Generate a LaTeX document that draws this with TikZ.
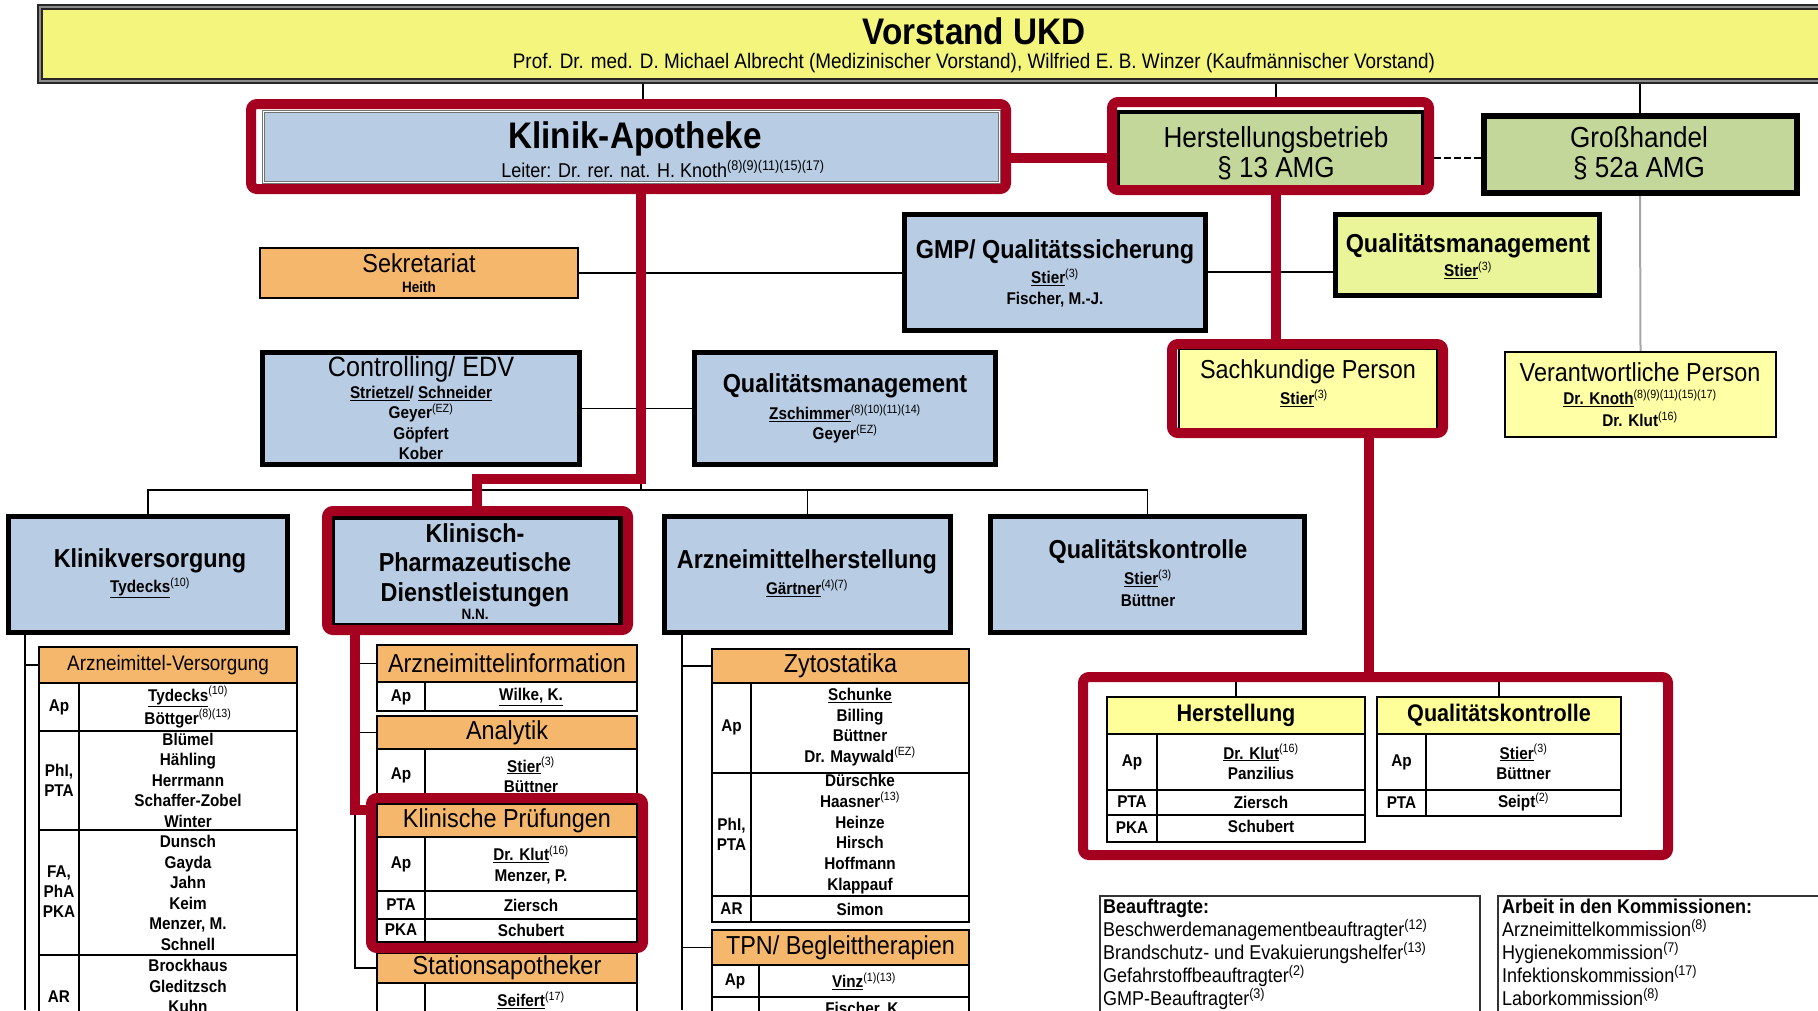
\documentclass[tikz,border=0pt]{standalone}
\usepackage{fontspec}
\setmainfont[FakeStretch=0.9]{Liberation Sans}
\usepackage{xcolor}
\usepackage{tikz}
\usetikzlibrary{backgrounds}
\definecolor{kblue}{RGB}{184,204,228}
\definecolor{korange}{RGB}{245,183,108}
\definecolor{kgreen}{RGB}{196,215,155}
\definecolor{kyellow}{RGB}{243,245,125}
\definecolor{klime}{RGB}{233,245,152}
\definecolor{kpale}{RGB}{255,255,166}
\definecolor{khead}{RGB}{255,255,153}
\definecolor{kred}{RGB}{166,0,33}
\newcommand{\setfs}[2]{\fontsize{#1}{#2}\selectfont}
\newcommand{\sps}[1]{\textsuperscript{\mdseries #1}}

\begin{document}
\begin{tikzpicture}[x=1pt,y=-1pt,
  conn/.style={draw=black, line width=1.5pt},
  cell/.style={draw=black, line width=1.5pt},
  redline/.style={draw=kred, line width=10pt},
  redframe/.style={draw=kred, line width=10pt, rounded corners=6pt, inner sep=0pt},
  bluebox/.style={draw=black, line width=5pt, fill=kblue, inner sep=0pt},
  hdrcell/.style={draw=black, line width=1.5pt, fill=korange, inner sep=0pt, font=\setfs{26}{28}},
  ttl/.style={inner sep=0pt, align=center, font=\setfs{26}{29.5}\bfseries},
  ttlr/.style={inner sep=0pt, align=center, font=\setfs{26}{29.5}},
  names/.style={inner sep=0pt, align=center, font=\setfs{17}{20.5}\bfseries},
  lbl/.style={inner sep=0pt, align=center, font=\setfs{17}{20}\bfseries}]
  \useasboundingbox (0,0) rectangle (1818,1010);
  \clip (0,0) rectangle (1818,1010);

  \node[draw=black!85, double=black!45, double distance=2pt, line width=2pt, fill=kyellow,
    minimum width=1800, minimum height=74, inner sep=0pt] (vorstand) at (940,44) {};
  \node[inner sep=0pt, font=\setfs{37}{40}\bfseries] (vtitle) at (974,31) {Vorstand UKD};
  \node[inner sep=0pt, font=\setfs{21}{24}] (vsub) at (974,63) {Prof. Dr. med. D. Michael Albrecht (Medizinischer Vorstand), Wilfried E. B. Winzer (Kaufmännischer Vorstand)};
  \coordinate (v1) at (643,83);
  \coordinate (v2) at (1276,83);
  \coordinate (v3) at (1640,83);

  \node[draw=black!55, double=white, double distance=1pt, line width=1pt, fill=kblue,
    minimum width=736, minimum height=71, inner sep=0pt] (ka) at (631,147) {};
  \node[inner sep=0pt, font=\setfs{37}{40}\bfseries] (katitle) at (635,139) {Klinik-Apotheke};
  \node[inner sep=0pt, font=\setfs{20}{22}] (kaleiter) at (663,169) {Leiter: Dr. rer. nat. H. Knoth\sps{(8)(9)(11)(15)(17)}};
  \node[redframe, minimum width=755, minimum height=85] (kared) at (628.5,146.5) {};

  \node[draw=black, line width=4pt, fill=kgreen, minimum width=305, minimum height=76, inner sep=0pt] (hb) at (1270,150) {};
  \node[ttlr, font=\setfs{29}{30}] (hbtext) at (1276,153) {Herstellungsbetrieb\\§ 13 AMG};
  \node[redframe, minimum width=317, minimum height=88] (hbred) at (1270.5,146) {};

  \node[draw=black, line width=6pt, fill=kgreen, minimum width=313, minimum height=77, inner sep=0pt] (gh) at (1640,154) {};
  \node[ttlr, font=\setfs{29}{30}] (ghtext) at (1639,153) {Großhandel\\§ 52a AMG};

  \node[draw=black, line width=1.5pt, fill=korange, minimum width=318, minimum height=50, inner sep=0pt] (sek) at (419,273) {};
  \node[ttlr, font=\setfs{26}{27}] (sektext) at (419,263) {Sekretariat};
  \node[names, font=\setfs{15}{18}\bfseries] (sekname) at (419,287) {Heith};

  \node[bluebox, minimum width=301, minimum height=116] (gmp) at (1055,272) {};
  \node[ttl] (gmptext) at (1055,252) {GMP/ Qualitätssicherung};
  \node[names] (gmpnames) at (1055,288) {\underline{Stier}\sps{(3)}\\Fischer, M.-J.};

  \node[draw=black, line width=5pt, fill=klime, minimum width=264, minimum height=81, inner sep=0pt] (qmr) at (1467.5,255) {};
  \node[ttl] (qmrtext) at (1468,246) {Qualitätsmanagement};
  \node[names] (qmrnames) at (1468,270) {\underline{Stier}\sps{(3)}};

  \node[bluebox, minimum width=317, minimum height=112] (ctrl) at (421,408.5) {};
  \node[ttlr, font=\setfs{28}{30}] (ctrltext) at (421,369) {Controlling/ EDV};
  \node[names] (ctrlnames) at (421,423) {\underline{Strietzel}/ \underline{Schneider}\\Geyer\sps{(EZ)}\\Göpfert\\Kober};

  \node[bluebox, minimum width=301, minimum height=112] (qmm) at (845,408.5) {};
  \node[ttl] (qmmtext) at (845,386) {Qualitätsmanagement};
  \node[names] (qmmnames) at (845,424) {\underline{Zschimmer}\sps{(8)(10)(11)(14)}\\Geyer\sps{(EZ)}};

  \node[draw=black, line width=1.5pt, fill=kpale, minimum width=258, minimum height=79, inner sep=0pt] (sp) at (1308,389) {};
  \node[ttlr] (sptext) at (1308,372) {Sachkundige Person};
  \node[names] (spnames) at (1304,398) {\underline{Stier}\sps{(3)}};
  \node[redframe, minimum width=271, minimum height=89] (spred) at (1307.5,388.5) {};

  \node[draw=black, line width=1.5pt, fill=kpale, minimum width=271, minimum height=85, inner sep=0pt] (vp) at (1640.5,394.5) {};
  \node[ttlr] (vptext) at (1640,372) {Verantwortliche Person};
  \node[names, font=\setfs{17}{22}\bfseries] (vpnames) at (1640,408) {\underline{Dr. Knoth}\sps{(8)(9)(11)(15)(17)}\\Dr. Klut\sps{(16)}};

  \node[bluebox, minimum width=279, minimum height=116] (kv) at (148,574.5) {};
  \node[ttl] (kvtext) at (150,561) {Klinikversorgung};
  \node[names] (kvnames) at (150,588) {\underline{Tydecks}\sps{(10)}};

  \node[bluebox, minimum width=288, minimum height=108] (kp) at (476.5,571.5) {};
  \node[ttl, font=\setfs{26}{29.5}\bfseries] (kptext) at (475,565) {Klinisch-\\Pharmazeutische\\Dienstleistungen};
  \node[names, font=\setfs{15}{17}\bfseries] (kpnames) at (475,614) {N.N.};
  \node[redframe, minimum width=301, minimum height=119] (kpred) at (477.5,570.5) {};

  \node[bluebox, minimum width=286, minimum height=116] (ah) at (807.5,574.5) {};
  \node[ttl] (ahtext) at (807,562) {Arzneimittelherstellung};
  \node[names] (ahnames) at (807,588) {\underline{Gärtner}\sps{(4)(7)}};

  \node[bluebox, minimum width=314, minimum height=116] (qk) at (1147.5,574.5) {};
  \node[ttl] (qktext) at (1148,552) {Qualitätskontrolle};
  \node[names, font=\setfs{17}{22}\bfseries] (qknames) at (1148,588) {\underline{Stier}\sps{(3)}\\Büttner};

  \node[hdrcell, font=\setfs{21}{24}, minimum width=258, minimum height=36] (avh) at (168,665) {Arzneimittel-Versorgung};
  \draw[cell] (39,683) -- (39,1040) (79,683) -- (79,1040) (297,683) -- (297,1040);
  \foreach \y in {731,830,955} \draw[cell] (39,\y) -- (297,\y);
  \node[lbl] (av1) at (59,707) {Ap};
  \node[names, font=\setfs{17}{23}\bfseries] (av1n) at (188,707) {\underline{Tydecks}\sps{(10)}\\Böttger\sps{(8)(13)}};
  \node[lbl] (av2) at (59,780) {PhI,\\PTA};
  \node[names] (av2n) at (188,780) {Blümel\\Hähling\\Herrmann\\Schaffer-Zobel\\Winter};
  \node[lbl] (av3) at (59,892) {FA,\\PhA\\PKA};
  \node[names] (av3n) at (188,893) {Dunsch\\Gayda\\Jahn\\Keim\\Menzer, M.\\Schnell};
  \node[lbl] (av4) at (59,997) {AR};
  \node[names] (av4n) at (188,986) {Brockhaus\\Gleditzsch\\Kuhn};

  \node[hdrcell, minimum width=260, minimum height=37] (aih) at (507,663.5) {Arzneimittelinformation};
  \draw[cell] (377,682) rectangle (637,711) (425,682) -- (425,711);
  \node[lbl] (ai1) at (401,697) {Ap};
  \node[names] (ai1n) at (531,697) {\underline{Wilke, K.}};
  \node[hdrcell, minimum width=260, minimum height=33] (anh) at (507,732.5) {Analytik};
  \draw[cell] (377,749) rectangle (637,800) (425,749) -- (425,800);
  \node[lbl] (an1) at (401,775) {Ap};
  \node[names] (an1n) at (531,775) {\underline{Stier}\sps{(3)}\\Büttner};
  \node[hdrcell, minimum width=260, minimum height=33] (kph) at (507,820.5) {Klinische Prüfungen};
  \draw[cell] (377,837) rectangle (637,942) (425,837) -- (425,942) (377,891) -- (637,891) (377,919) -- (637,919);
  \node[lbl] (kp1) at (401,864) {Ap};
  \node[names] (kp1n) at (531,865) {\underline{Dr. Klut}\sps{(16)}\\Menzer, P.};
  \node[lbl] (kp2) at (401,905) {PTA};
  \node[names] (kp2n) at (531,905) {Ziersch};
  \node[lbl] (kp3) at (401,930) {PKA};
  \node[names] (kp3n) at (531,930) {Schubert};
  \node[hdrcell, minimum width=260, minimum height=30] (sth) at (507,968) {Stationsapotheker};
  \draw[cell] (377,983) -- (377,1040) (425,983) -- (425,1040) (637,983) -- (637,1040);
  \node[names] (st1n) at (531,1000) {\underline{Seifert}\sps{(17)}};
  \node[redframe, minimum width=272, minimum height=150] (kprf) at (507,873) {};

  \node[hdrcell, minimum width=257, minimum height=34] (zyh) at (840.5,666) {Zytostatika};
  \draw[cell] (712,683) -- (712,922) -- (969,922) -- (969,683) (751,683) -- (751,922) (712,773) -- (969,773) (712,896) -- (969,896);
  \node[lbl] (zy1) at (731.5,727) {Ap};
  \node[names] (zy1n) at (860,727) {\underline{Schunke}\\Billing\\Büttner\\Dr. Maywald\sps{(EZ)}};
  \node[lbl] (zy2) at (731.5,834) {PhI,\\PTA};
  \node[names, font=\setfs{17}{20.8}\bfseries] (zy2n) at (860,834) {Dürschke\\Haasner\sps{(13)}\\Heinze\\Hirsch\\Hoffmann\\Klappauf};
  \node[lbl] (zy3) at (731.5,909) {AR};
  \node[names] (zy3n) at (860,909) {Simon};
  \node[hdrcell, minimum width=257, minimum height=35] (tpnh) at (840.5,947.5) {TPN/ Begleittherapien};
  \draw[cell] (712,965) -- (712,1040) (759,965) -- (759,1040) (969,965) -- (969,1040) (712,997) -- (969,997);
  \node[lbl] (tp1) at (735,981) {Ap};
  \node[names] (tp1n) at (864,981) {\underline{Vinz}\sps{(1)(13)}};
  \node[names] (tp2n) at (864,1010) {Fischer, K.};

  \node[draw=black, line width=1.5pt, fill=khead, inner sep=0pt, minimum width=258, minimum height=37,
    font=\setfs{24}{26}\bfseries] (hsth) at (1236,715.5) {Herstellung};
  \draw[cell] (1107,734) rectangle (1365,842) (1157,734) -- (1157,842) (1107,790) -- (1365,790) (1107,815) -- (1365,815);
  \node[lbl] (hs1) at (1132,762) {Ap};
  \node[names] (hs1n) at (1261,762) {\underline{Dr. Klut}\sps{(16)}\\Panzilius};
  \node[lbl] (hs2) at (1132,802) {PTA};
  \node[names] (hs2n) at (1261,802) {Ziersch};
  \node[lbl] (hs3) at (1132,828) {PKA};
  \node[names] (hs3n) at (1261,826) {Schubert};
  \node[draw=black, line width=1.5pt, fill=khead, inner sep=0pt, minimum width=244, minimum height=37,
    font=\setfs{24}{26}\bfseries] (qkth) at (1499,715.5) {Qualitätskontrolle};
  \draw[cell] (1377,734) rectangle (1621,816) (1426,734) -- (1426,816) (1377,790) -- (1621,790);
  \node[lbl] (qt1) at (1401.5,762) {Ap};
  \node[names] (qt1n) at (1523.5,762) {\underline{Stier}\sps{(3)}\\Büttner};
  \node[lbl] (qt2) at (1401.5,803) {PTA};
  \node[names] (qt2n) at (1523.5,802) {Seipt\sps{(2)}};
  \node[redframe, minimum width=585, minimum height=178] (rbox) at (1375.5,766) {};
  \coordinate (rbin) at (1375,682);

  \node[draw=black!80, line width=1.5pt, minimum width=380, minimum height=150, anchor=north west, inner sep=0pt] (beauf) at (1099,895) {};
  \node[anchor=north west, inner sep=0pt, align=left, font=\setfs{20}{23}] (beauftxt) at (1103,899)
    {\textbf{Beauftragte:}\\Beschwerdemanagementbeauftragter\sps{(12)}\\Brandschutz- und Evakuierungshelfer\sps{(13)}\\Gefahrstoffbeauftragter\sps{(2)}\\GMP-Beauftragter\sps{(3)}};
  \node[draw=black!80, line width=1.5pt, minimum width=360, minimum height=150, anchor=north west, inner sep=0pt] (komm) at (1497,895) {};
  \node[anchor=north west, inner sep=0pt, align=left, font=\setfs{20}{23}] (kommtxt) at (1502,899)
    {\textbf{Arbeit in den Kommissionen:}\\Arzneimittelkommission\sps{(8)}\\Hygienekommission\sps{(7)}\\Infektionskommission\sps{(17)}\\Laborkommission\sps{(8)}};

  \coordinate (r1) at (641,479);
  \coordinate (r2) at (477,479);
  \coordinate (r3) at (1276,300);
  \coordinate (r4) at (1369,500);
  \coordinate (r5) at (355,810);
  \coordinate (r6) at (1000,158);
  \coordinate (busl) at (150,490);
  \coordinate (kvd) at (25,1010);
  \coordinate (ahd) at (682,1010);

  \draw[redline] (kared.south -| r1) -- (r1) -- (r2) -- (r2 |- kpred.north);
  \draw[redline] (hbred.south -| r3) -- (r3 |- spred.north);
  \draw[redline] (spred.south -| r4) -- (r4 |- rbox.north);
  \draw[redline] (kpred.south -| r5) -- (r5) -- (r5 -| kprf.west);
  \draw[redline] (kared.east |- r6) -- (hbred.west |- r6);

  \begin{scope}[on background layer]
    \draw[conn] (v1) -- (v1 |- kared.north);
    \draw[conn] (v2) -- (v2 |- hbred.north);
    \draw[conn] (v3) -- (v3 |- gh.north);
    \draw[conn, dash pattern=on 7pt off 3pt] (hbred.east |- r6) -- (gh.west |- r6);
    \draw[conn] (sek.east) -- (sek.east -| gmp.west);
    \draw[conn] (gmp.east) -- (gmp.east -| qmr.west);
    \draw[conn] (ctrl.east) -- (ctrl.east -| qmm.west);
    \draw[line width=2pt, black!35] (gh.south) -- (vp.north);
    \draw[conn] (kv.north) -- (kv.north |- busl) -- (qk.north |- busl) -- (qk.north);
    \draw[conn] (ah.north) -- (ah.north |- busl);
    \draw[conn] (r1) -- (r1 |- busl);
    \draw[conn] (kv.south -| kvd) -- (kvd);
    \draw[conn] (kvd |- avh.west) -- (avh.west);
    \draw[conn] (r5 |- aih.west) -- (aih.west);
    \draw[conn] (r5 |- anh.west) -- (anh.west);
    \draw[conn] (r5) -- (r5 |- sth.west) -- (sth.west);
    \draw[conn] (ah.south -| ahd) -- (ahd);
    \draw[conn] (ahd |- zyh.west) -- (zyh.west);
    \draw[conn] (ahd |- tpnh.west) -- (tpnh.west);
    \draw[conn] (hsth.north |- rbin) -- (hsth.north);
    \draw[conn] (qkth.north |- rbin) -- (qkth.north);
  \end{scope}
\end{tikzpicture}
\end{document}
